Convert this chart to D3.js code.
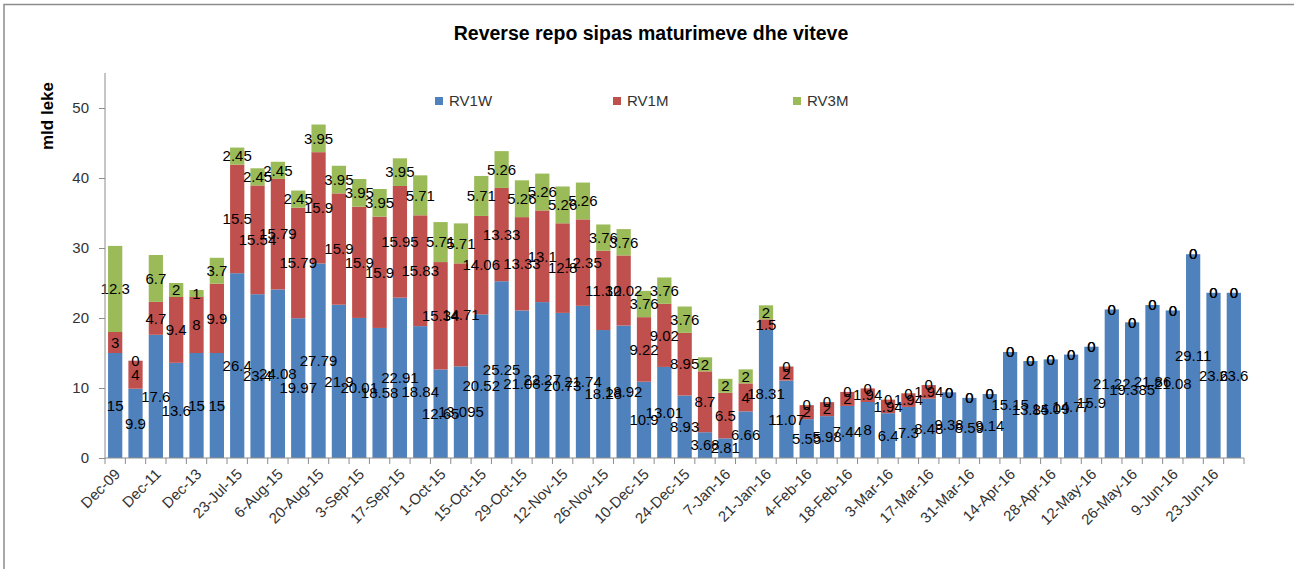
<!DOCTYPE html>
<html>
<head>
<meta charset="utf-8">
<script src="https://cdn.jsdelivr.net/npm/d3@7"></script>
<style>
  body { margin: 0; background: #fff; }
  svg { display: block; font-family: "Liberation Sans", Arial, sans-serif; }
</style>
</head>
<body>
<div id="chart"></div>
<script>
// data
const dates = [
    "Dec-09", "Dec-10", "Dec-11", "Dec-12", "Dec-13", "Dec-14",
    "23-Jul-15", "30-Jul-15", "6-Aug-15", "13-Aug-15", "20-Aug-15", "27-Aug-15",
    "3-Sep-15", "10-Sep-15", "17-Sep-15", "24-Sep-15", "1-Oct-15", "8-Oct-15",
    "15-Oct-15", "22-Oct-15", "29-Oct-15", "5-Nov-15", "12-Nov-15", "19-Nov-15",
    "26-Nov-15", "3-Dec-15", "10-Dec-15", "17-Dec-15", "24-Dec-15", "31-Dec-15",
    "7-Jan-16", "14-Jan-16", "21-Jan-16", "28-Jan-16", "4-Feb-16", "11-Feb-16",
    "18-Feb-16", "25-Feb-16", "3-Mar-16", "10-Mar-16", "17-Mar-16", "24-Mar-16",
    "31-Mar-16", "7-Apr-16", "14-Apr-16", "21-Apr-16", "28-Apr-16", "5-May-16",
    "12-May-16", "19-May-16", "26-May-16", "2-Jun-16", "9-Jun-16", "16-Jun-16",
    "23-Jun-16", "30-Jun-16"
];

const rv1w = [15, 9.9, 17.6, 13.6, 15, 15, 26.4, 23.4, 24.08, 19.97, 27.79, 21.9,
    20.01, 18.58, 22.91, 18.84, 12.65, 13.095, 20.52, 25.25, 21.08, 22.27, 20.73, 21.74,
    18.28, 18.92, 10.9, 13.01, 8.93, 3.68, 2.81, 6.66, 18.31, 11.07, 5.55, 5.98,
    7.44, 8, 6.4, 7.3, 8.48, 9.38, 8.59, 9.14, 15.15, 13.85, 14.09, 14.77,
    15.9, 21.22, 19.385, 21.86, 21.08, 29.11, 23.6, 23.6];

const rv1m = [3, 4, 4.7, 9.4, 8, 9.9, 15.5, 15.54, 15.79, 15.79, 15.9, 15.9,
    15.9, 15.9, 15.95, 15.83, 15.34, 14.71, 14.06, 13.33, 13.33, 13.1, 12.8, 12.35,
    11.32, 10.02, 9.22, 9.02, 8.95, 8.7, 6.5, 4, 1.5, 2, 2, 2,
    2, 1.94, 1.94, 1.94, 1.94, 0, 0, 0, 0, 0, 0, 0,
    0, 0, 0, 0, 0, 0, 0, 0];

const rv3m = [12.3, 0, 6.7, 2, 1, 3.7, 2.45, 2.45, 2.45, 2.45, 3.95, 3.95,
    3.95, 3.95, 3.95, 5.71, 5.71, 5.71, 5.71, 5.26, 5.26, 5.26, 5.26, 5.26,
    3.76, 3.76, 3.76, 3.76, 3.76, 2, 2, 2, 2, 0, 0, 0,
    0, 0, 0, 0, 0, 0, 0, 0, 0, 0, 0, 0,
    0, 0, 0, 0, 0, 0, 0, 0];

const seriesNames = ["RV1W", "RV1M", "RV3M"];
const seriesColors = ["#4F81BD", "#C0504D", "#9BBB59"];
const yTicks = [0, 10, 20, 30, 40, 50];

const width = 1294;
const height = 569;
const margin = { left: 105, right: 50, top: 73, bottom: 111 };

const rows = dates.map((d, i) => ({ date: d, RV1W: rv1w[i], RV1M: rv1m[i], RV3M: rv3m[i] }));
const stacked = d3.stack().keys(seriesNames)(rows);

const x = d3.scaleBand()
    .domain(dates)
    .range([margin.left, width - margin.right])
    .paddingInner(0.3)
    .paddingOuter(0.15);

const y = d3.scaleLinear()
    .domain([0, 55])
    .range([height - margin.bottom, margin.top]);

const color = d3.scaleOrdinal().domain(seriesNames).range(seriesColors);

const svg = d3.create("svg")
    .attr("width", width)
    .attr("height", height)
    .attr("viewBox", [0, 0, width, height]);

// outer frame
svg.append("path")
    .attr("d", `M4,${height + 5}V4.5H${width + 5}`)
    .attr("fill", "none")
    .attr("stroke", "#8c8c8c")
    .attr("stroke-width", 1.5);

svg.append("text")
    .attr("x", 651)
    .attr("y", 40)
    .attr("text-anchor", "middle")
    .attr("font-size", 19.5)
    .attr("font-weight", "bold")
    .text("Reverse repo sipas maturimeve dhe viteve");

svg.append("text")
    .attr("transform", "translate(53,116) rotate(-90)")
    .attr("text-anchor", "middle")
    .attr("font-size", 17)
    .attr("font-weight", "bold")
    .text("mld leke");

// bars
const layers = svg.append("g")
    .selectAll("g")
    .data(stacked)
    .join("g")
    .attr("fill", d => color(d.key));

layers.selectAll("rect")
    .data(d => d)
    .join("rect")
    .attr("x", d => x(d.data.date))
    .attr("y", d => y(d[1]))
    .attr("width", x.bandwidth())
    .attr("height", d => y(d[0]) - y(d[1]));

// data labels, centred in each segment
svg.append("g")
    .attr("font-size", 15)
    .attr("fill", "#000")
    .attr("text-anchor", "middle")
    .selectAll("g")
    .data(stacked)
    .join("g")
    .selectAll("text")
    .data(d => d.map(v => ({ v, key: d.key })))
    .join("text")
    .attr("x", d => x(d.v.data.date) + x.bandwidth() / 2)
    .attr("y", d => y((d.v[0] + d.v[1]) / 2))
    .attr("dy", "0.35em")
    .text(d => d.v.data[d.key]);

// y axis
const yAxis = svg.append("g")
    .attr("transform", `translate(${margin.left},0)`)
    .call(d3.axisLeft(y).tickValues(yTicks).tickSize(6).tickPadding(10));
yAxis.select(".domain").attr("d", `M0,${y(0)}V${margin.top}`).attr("stroke", "#8c8c8c");
yAxis.selectAll(".tick line").attr("stroke", "#8c8c8c");
yAxis.selectAll("text").attr("font-size", 15).attr("fill", "#333").attr("font-family", null);

// x axis, ticks between categories
const step = x.step();
const xAxis = svg.append("g")
    .attr("transform", `translate(0,${y(0)})`);
xAxis.append("line")
    .attr("x1", margin.left)
    .attr("x2", width - margin.right)
    .attr("stroke", "#8c8c8c");
xAxis.selectAll(".tk")
    .data(d3.range(dates.length + 1))
    .join("line")
    .attr("class", "tk")
    .attr("x1", i => margin.left + i * step)
    .attr("x2", i => margin.left + i * step)
    .attr("y2", 6)
    .attr("stroke", "#8c8c8c");
xAxis.selectAll(".lbl")
    .data(dates.filter((d, i) => i % 2 === 0))
    .join("text")
    .attr("class", "lbl")
    .attr("font-size", 15)
    .attr("fill", "#333")
    .attr("text-anchor", "end")
    .attr("transform", d => `translate(${x(d) + x.bandwidth() / 2 + 6},${17}) rotate(-45)`)
    .text(d => d);

// legend
const legendX = [435, 613, 793];
const legend = svg.append("g")
    .selectAll("g")
    .data(seriesNames)
    .join("g")
    .attr("transform", (d, i) => `translate(${legendX[i]},101)`);
legend.append("rect")
    .attr("y", -4)
    .attr("width", 8)
    .attr("height", 8)
    .attr("fill", d => color(d));
legend.append("text")
    .attr("x", 14)
    .attr("dy", "0.35em")
    .attr("font-size", 15)
    .attr("fill", "#333")
    .text(d => d);

document.getElementById("chart").append(svg.node());
</script>
</body>
</html>
